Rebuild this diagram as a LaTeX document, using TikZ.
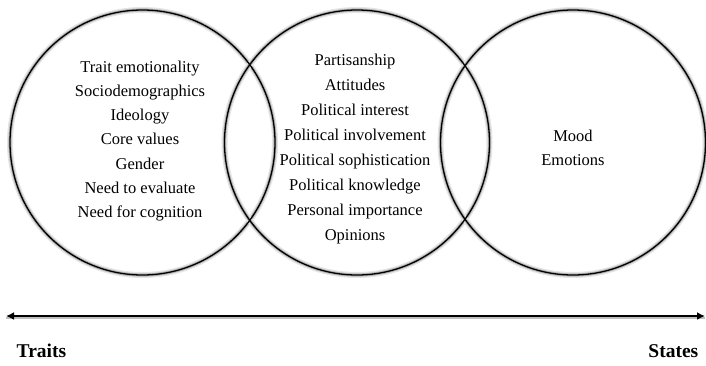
\documentclass[tikz,border=0pt]{standalone}
\usepackage{fontspec}
\setmainfont{Liberation Serif}
\usetikzlibrary{arrows.meta}
\begin{document}
\begin{tikzpicture}[x=1pt,y=-1pt,
  ring/.style={circle,minimum size=265pt,inner sep=0pt},
  ringshadeA/.style={draw=black!10,line width=6pt},
  ringshadeB/.style={draw=black!30,line width=3.2pt},
  ringline/.style={draw=black,line width=1.3pt},
  lbl/.style={align=center,font=\fontsize{16.5}{24.3}\selectfont,inner sep=0pt},
  lblm/.style={align=center,font=\fontsize{16.5}{25.1}\selectfont,inner sep=0pt},
  endlbl/.style={font=\fontsize{19.5}{22}\selectfont\bfseries,inner sep=0pt}]
\useasboundingbox (0,0) rectangle (706,365);
% soft halo round each ring
\foreach \x in {142.5,357,573}{
  \node[ring,ringshadeA] at (\x,142.5) {};
  \node[ring,ringshadeB] at (\x,142.5) {};}
\node[ring,ringline] (cl) at (142.5,142.5) {};
\node[ring,ringline] (cm) at (357,142.5) {};
\node[ring,ringline] (cr) at (573,142.5) {};
\node[lbl] (tl) at (140,141) {Trait emotionality\\Sociodemographics\\Ideology\\Core values\\Gender\\Need to evaluate\\Need for cognition};
\node[lblm] (tm) at (355,149) {Partisanship\\Attitudes\\Political interest\\Political involvement\\Political sophistication\\Political knowledge\\Personal importance\\Opinions};
\node[lbl] (tr) at (573,148) {Mood\\Emotions};
\coordinate (al) at (6,316);
\coordinate (ar) at (705,316);
\draw[black!25,line width=2.5pt] ([yshift=-1.8pt]al) -- ([yshift=-1.8pt]ar);
\draw[line width=1.7pt,{Latex[length=8pt,width=8pt]}-{Latex[length=8pt,width=8pt]}] (al) -- (ar);
\node[endlbl,anchor=west] (traits) at (16.5,351) {Traits};
\node[endlbl,anchor=east] (states) at (698.5,351) {States};
\end{tikzpicture}
\end{document}
